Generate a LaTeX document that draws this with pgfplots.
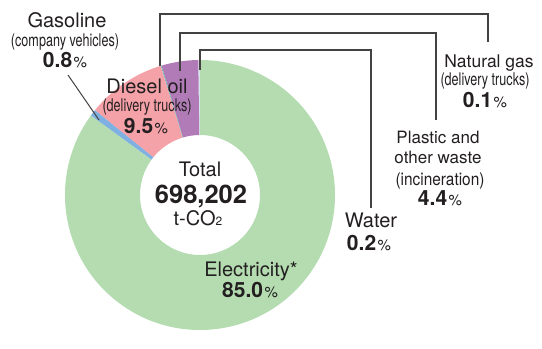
\documentclass[border=0pt]{standalone}
\usepackage{pgfplots}
\pgfplotsset{compat=1.18}
\usepackage{pgfplotstable}
\usetikzlibrary{calc}
\usepackage{fontspec}
\setmainfont{TeX Gyre Heros}
\newfontfamily\condfont{TeX Gyre Heros}[FakeStretch=0.72]
\newfontfamily\semicondfont{TeX Gyre Heros}[FakeStretch=0.88]
\definecolor{slice0}{HTML}{D5E6EE}% Water
\definecolor{slice1}{HTML}{B07BB6}% Plastic
\definecolor{slice2}{HTML}{62C3B8}% Natural gas
\definecolor{slice3}{HTML}{F4A1A8}% Diesel
\definecolor{slice4}{HTML}{7EB1E2}% Gasoline
\definecolor{slice5}{HTML}{B4DCB0}% Electricity
\definecolor{txt}{HTML}{231F20}
\newcommand\fs[1]{\fontsize{#1}{#1}\selectfont}
\newcommand\cond{\condfont\fs{17.5}}
\newcommand\pct[1]{{\bfseries\fs{21}#1}\hspace{1.5pt}{\fs{15}\%}}

\pgfplotstableread{
label value
Water 0.2
Plastic 4.4
NaturalGas 0.1
Diesel 9.5
Gasoline 0.8
Electricity 85.0
}\slices

\begin{document}
\begin{tikzpicture}
\def\cum{0}
\pgfplotsforeachungrouped \i in {0,...,5}{%
  \pgfplotstablegetelem{\i}{value}\of\slices
  \let\v\pgfplotsretval
  \pgfmathsetmacro\a{90+3.6*\cum}%
  \pgfmathsetmacro\cum{\cum+\v}%
  \pgfmathsetmacro\b{90+3.6*\cum}%
  \expandafter\xdef\csname sa\i\endcsname{\a}%
  \expandafter\xdef\csname sb\i\endcsname{\b}%
}
\begin{axis}[
  scale only axis, width=542pt, height=331pt,
  xmin=0, xmax=542, ymin=0, ymax=331, y dir=reverse,
  hide axis, clip=false,
]
\path (axis cs:0,0) rectangle (axis cs:542,331);
\pgfplotsinvokeforeach{0,...,5}{%
  \fill[fill=slice#1] ($(axis cs:200,195)+(\csname sa#1\endcsname:135pt)$)
    arc[start angle=\csname sa#1\endcsname, end angle=\csname sb#1\endcsname, radius=135pt]
    -- ($(axis cs:200,195)+(\csname sb#1\endcsname:60pt)$)
    arc[start angle=\csname sb#1\endcsname, end angle=\csname sa#1\endcsname, radius=60pt]
    -- cycle;
}
% leader lines
\addplot[line width=1.1pt, color=txt!85, line join=miter, mark=none] coordinates {(160,66)(160,14)(488,14)(488,42)};
\addplot[line width=1.1pt, color=txt!85, line join=miter, mark=none] coordinates {(180,71)(180,33)(436,33)(436,120)};
\addplot[line width=1.1pt, color=txt!85, line join=miter, mark=none] coordinates {(200,70)(200,50)(371,50)(371,208)};
\addplot[line width=1.0pt, color=txt!85, mark=none] coordinates {(68,75)(99,120)};
% labels
\begin{scope}[every node/.style={anchor=base, inner sep=0pt, text=txt}]
\node at (axis cs:67,27) {\fs{20}Gasoline};
\node at (axis cs:65,46) {\cond (company vehicles)};
\node at (axis cs:65,67) {\pct{0.8}};
\node at (axis cs:147,93) {\fs{20}Diesel oil};
\node at (axis cs:147,111) {\cond (delivery trucks)};
\node at (axis cs:146,133) {\pct{9.5}};
\node at (axis cs:489,67) {\fs{17.5}Natural gas};
\node at (axis cs:485,85) {\cond (delivery trucks)};
\node at (axis cs:485,107) {\pct{0.1}};
\node at (axis cs:438,143) {\fs{17}Plastic and};
\node at (axis cs:438,163) {\fs{17}other waste};
\node at (axis cs:440,185) {\semicondfont\fs{17.5}(incineration)};
\node at (axis cs:440,205) {\pct{4.4}};
\node at (axis cs:371,227) {\fs{20}Water};
\node at (axis cs:369,250) {\pct{0.2}};
\node at (axis cs:251,276) {\fs{20}Electricity*};
\node at (axis cs:250,297) {\pct{85.0}};
\node at (axis cs:200,176) {\fs{20}Total};
\node at (axis cs:201,203) {\bfseries\fs{25.5}698,202};
\node at (axis cs:198,225) {\fs{20}t-CO{\fs{12}2}};
\end{scope}
\end{axis}
\end{tikzpicture}
\end{document}
